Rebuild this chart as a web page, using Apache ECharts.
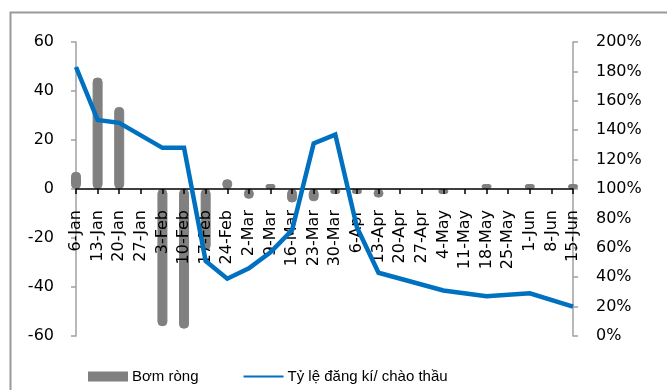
<!DOCTYPE html>
<html>
<head>
<meta charset="utf-8">
<script src="https://cdn.jsdelivr.net/npm/echarts@6/dist/echarts.min.js"></script>
<style>
  html, body { margin: 0; padding: 0; background: #ffffff; }
  #chart { width: 667px; height: 390px; }
</style>
</head>
<body>
<div id="chart"></div>
<script>
// Weekly auction dates
const weeks = ['6-Jan', '13-Jan', '20-Jan', '27-Jan', '3-Feb', '10-Feb', '17-Feb', '24-Feb',
  '2-Mar', '9-Mar', '16-Mar', '23-Mar', '30-Mar', '6-Apr', '13-Apr', '20-Apr', '27-Apr',
  '4-May', '11-May', '18-May', '25-May', '1-Jun', '8-Jun', '15-Jun'];

// Net injection (left axis); null = no auction that week
const netInjection = [7, 45.5, 33.5, null, -56, -57, -25, 4,
  -4, 1, -5.5, -5, -1, -1, -3.5, null, null,
  -1, null, 1, null, 0.5, null, 0.5];

// Bid-to-offer ratio in % (right axis)
const bidToOffer = [183, 147, 145, null, 128, 128, 51, 39,
  46, 57, 72, 131, 137, 74, 43, null, null,
  31, null, 27, null, 29, null, 20];

const leftTicks = { min: -60, max: 60, interval: 20 };
const rightTicks = { min: 0, max: 200, interval: 20 };

const seriesNames = ['Bơm ròng', 'Tỷ lệ đăng kí/ chào thầu'];

const AXIS_FONT = '"DejaVu Sans", sans-serif';
const LEGEND_FONT = '"Liberation Sans", Arial, sans-serif';
const GREY = '#808080';
const BLUE = '#0070c0';

// Plot area in pixels
const GRID = { left: 76, right: 94, top: 42, bottom: 54 };
const CHART_H = 390;
// Category axis sits on the left axis' zero line
const plotH = CHART_H - GRID.top - GRID.bottom;
const zeroOffset = plotH * (0 - leftTicks.min) / (leftTicks.max - leftTicks.min);

const chart = echarts.init(document.getElementById('chart'), null, { renderer: 'canvas' });

chart.setOption({
  animation: false,
  backgroundColor: '#ffffff',
  graphic: [{
    type: 'rect',
    left: 8, top: 10,
    shape: { width: 700, height: 420 },
    style: { fill: 'none', stroke: '#9a9a9a', lineWidth: 2 },
    silent: true
  }],
  grid: Object.assign({ containLabel: false, outerBoundsMode: 'none' }, GRID),
  legend: {
    left: 83, top: 364,
    itemGap: 45,
    itemWidth: 40, itemHeight: 10,
    textStyle: { fontFamily: LEGEND_FONT, fontSize: 15, color: '#000', padding: [0, 0, 0, -1] },
    data: [
      { name: seriesNames[0], icon: 'rect', itemStyle: { color: GREY, borderWidth: 0 } },
      { name: seriesNames[1], icon: 'path://M0,0 H40 V2 H0 Z', itemStyle: { color: BLUE, borderWidth: 0 } }
    ]
  },
  xAxis: {
    type: 'category',
    data: weeks,
    boundaryGap: false,
    position: 'bottom',
    offset: -zeroOffset,
    z: 3,
    axisLine: { onZero: false, lineStyle: { color: '#000', width: 1.5 } },
    axisTick: { show: true, alignWithLabel: true, interval: 0, length: 5, lineStyle: { color: '#000', width: 1.5 } },
    axisLabel: {
      interval: 0, rotate: 90, margin: 21,
      fontFamily: AXIS_FONT, fontSize: 16, color: '#000'
    },
    splitLine: { show: false }
  },
  yAxis: [{
    type: 'value',
    min: leftTicks.min, max: leftTicks.max, interval: leftTicks.interval,
    position: 'left',
    axisLine: { show: true, lineStyle: { color: '#a0a0a0', width: 1.5 } },
    axisTick: { show: true, length: 5, lineStyle: { color: '#a0a0a0', width: 1.5 } },
    axisLabel: { margin: 22, fontFamily: AXIS_FONT, fontSize: 16, color: '#000' },
    splitLine: { show: false }
  }, {
    type: 'value',
    min: rightTicks.min, max: rightTicks.max, interval: rightTicks.interval,
    position: 'right',
    axisLine: { show: true, lineStyle: { color: '#a0a0a0', width: 1.5 } },
    axisTick: { show: true, length: 5, lineStyle: { color: '#a0a0a0', width: 1.5 } },
    axisLabel: { margin: 23, fontFamily: AXIS_FONT, fontSize: 16, color: '#000', formatter: '{value}%' },
    splitLine: { show: false }
  }],
  series: [{
    name: seriesNames[0],
    type: 'bar',
    yAxisIndex: 0,
    data: netInjection,
    barWidth: 10,
    barMinHeight: 5,
    clip: true,
    z: 2,
    itemStyle: {
      color: GREY,
      borderColor: GREY,
      borderWidth: 1,
      borderRadius: 4
    }
  }, {
    name: seriesNames[1],
    type: 'line',
    yAxisIndex: 1,
    data: bidToOffer,
    connectNulls: true,
    symbol: 'none',
    showSymbol: false,
    z: 5,
    itemStyle: { color: BLUE },
    lineStyle: { color: BLUE, width: 4.5, join: 'miter' }
  }]
});
</script>
</body>
</html>
